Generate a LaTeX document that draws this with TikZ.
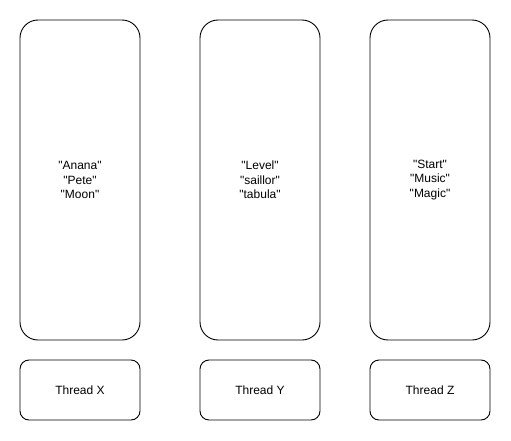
\documentclass[tikz,border=0pt]{standalone}
\usepackage{fontspec}
\setmainfont{Liberation Sans}
\newcommand{\qq}[1]{\textquotedbl#1\textquotedbl}
\begin{document}
\begin{tikzpicture}[x=1pt,y=-1pt,
  tallbox/.style={draw=black,line width=0.9pt,rounded corners=18pt,minimum width=120pt,minimum height=320pt,align=center,font=\fontsize{12pt}{14.4pt}\selectfont,inner sep=0pt},
  threadbox/.style={draw=black,line width=0.9pt,rounded corners=9pt,minimum width=120pt,minimum height=60pt,align=center,font=\fontsize{12pt}{14.4pt}\selectfont,inner sep=0pt}]
\useasboundingbox[fill=white] (0,0) rectangle (511,441);
\node[tallbox] (bx) at (80,180) {\qq{Anana}\\\qq{Pete}\\\qq{Moon}};
\node[tallbox] (by) at (260,180) {\qq{Level}\\\qq{saillor}\\\qq{tabula}};
\node[tallbox] (bz) at (430,180) {\qq{Start}\\\qq{Music}\\\qq{Magic}};
\node[threadbox] (tx) at (80,390) {Thread X};
\node[threadbox] (ty) at (260,390) {Thread Y};
\node[threadbox] (tz) at (430,390) {Thread Z};
\end{tikzpicture}
\end{document}
